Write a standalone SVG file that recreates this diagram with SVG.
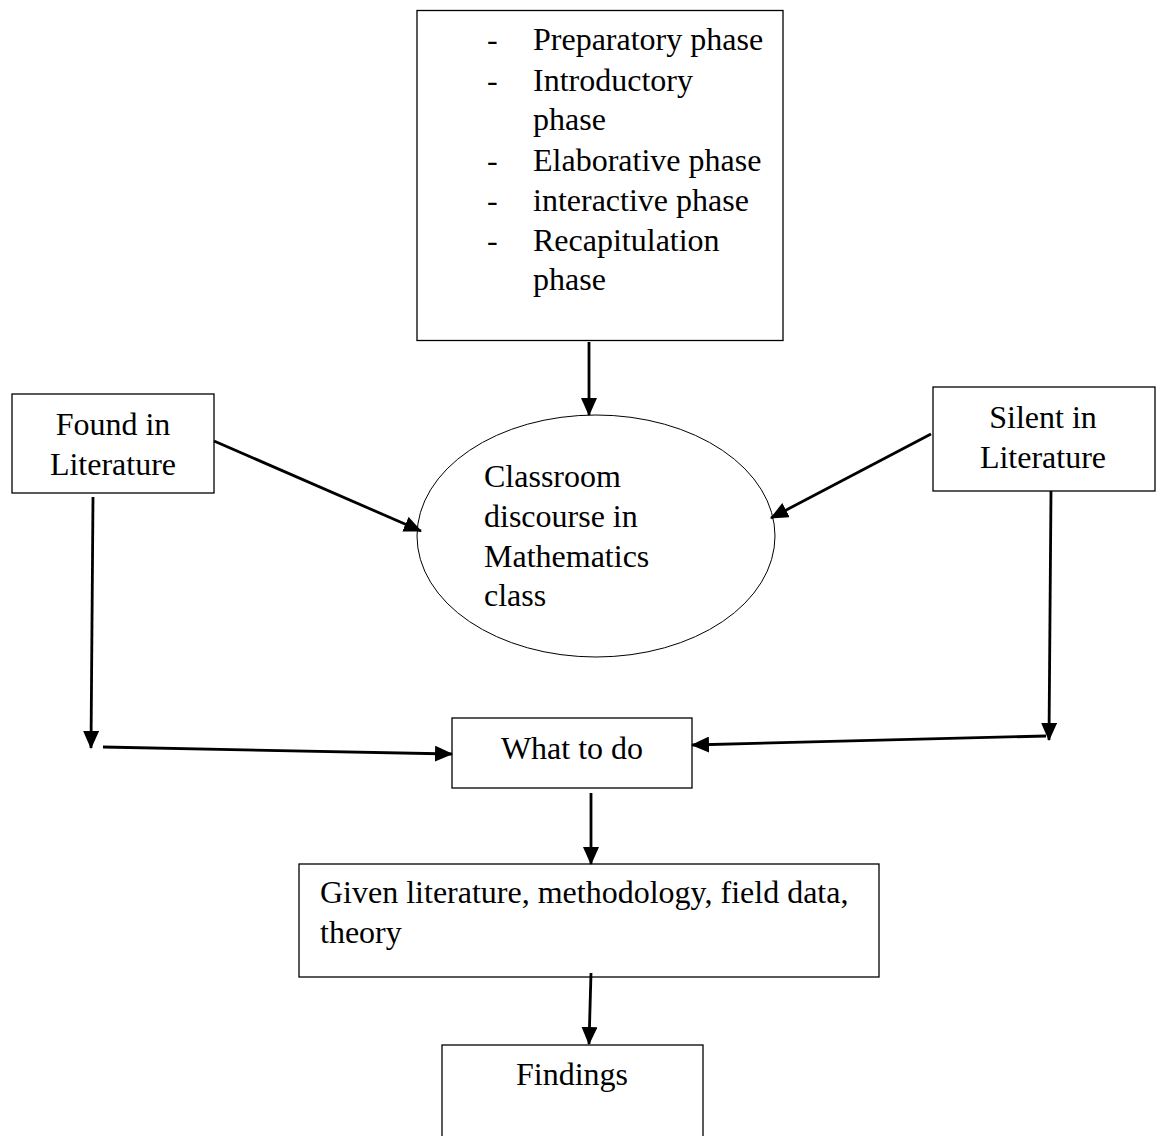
<svg xmlns="http://www.w3.org/2000/svg" width="1160" height="1136" viewBox="0 0 1160 1136">
<style>
.box{fill:#fff;stroke:#000;stroke-width:1.3}
.ell{fill:#fff;stroke:#000;stroke-width:1}
.t{font-family:"Liberation Serif","Times New Roman",serif;font-size:32px;fill:#000}
.c{text-anchor:middle}
.con{stroke:#000;stroke-width:2.8;fill:none;marker-end:url(#ah)}
</style>
<defs>
<marker id="ah" markerUnits="userSpaceOnUse" markerWidth="18" markerHeight="16" refX="17" refY="8" orient="auto">
<path d="M0,0 L18,8 L0,16 z" fill="#000"/>
</marker>
</defs>
<rect width="1160" height="1136" fill="#fff"/>
<g id="phases">
<rect class="box" x="417" y="10.5" width="366" height="330"/>
<text class="t" x="487" y="50">-</text><text class="t" x="533" y="50">Preparatory phase</text>
<text class="t" x="487" y="91">-</text><text class="t" x="533" y="91">Introductory</text>
<text class="t" x="533" y="130">phase</text>
<text class="t" x="487" y="171">-</text><text class="t" x="533" y="171">Elaborative phase</text>
<text class="t" x="487" y="211">-</text><text class="t" x="533" y="211">interactive phase</text>
<text class="t" x="487" y="251">-</text><text class="t" x="533" y="251">Recapitulation</text>
<text class="t" x="533" y="290">phase</text>
</g>
<g id="found">
<rect class="box" x="12" y="394" width="202" height="99"/>
<text class="t c" x="113" y="435">Found in</text>
<text class="t c" x="113" y="475">Literature</text>
</g>
<g id="silent">
<rect class="box" x="933" y="387" width="222" height="104"/>
<text class="t c" x="1043" y="428">Silent in</text>
<text class="t c" x="1043" y="468">Literature</text>
</g>
<g id="discourse">
<ellipse class="ell" cx="596" cy="536" rx="179" ry="121"/>
<text class="t" x="484" y="487">Classroom</text>
<text class="t" x="484" y="527">discourse in</text>
<text class="t" x="484" y="567">Mathematics</text>
<text class="t" x="484" y="606">class</text>
</g>
<g id="whattodo">
<rect class="box" x="452" y="718" width="240" height="70"/>
<text class="t c" x="572" y="759">What to do</text>
</g>
<g id="given">
<rect class="box" x="299" y="864" width="580" height="113"/>
<text class="t" x="320" y="903">Given literature, methodology, field data,</text>
<text class="t" x="320" y="943">theory</text>
</g>
<g id="findings">
<rect class="box" x="442" y="1045" width="261" height="120"/>
<text class="t c" x="572" y="1085">Findings</text>
</g>
<g id="connectors">
<line class="con" x1="589" y1="342" x2="589" y2="415"/>
<line class="con" x1="214" y1="441" x2="421" y2="531"/>
<line class="con" x1="931" y1="434" x2="771" y2="518"/>
<line class="con" x1="93" y1="497" x2="91" y2="748"/>
<line class="con" x1="103" y1="747" x2="452" y2="754"/>
<line class="con" x1="1051" y1="491" x2="1049" y2="740"/>
<line class="con" x1="1046" y1="736" x2="692" y2="745"/>
<line class="con" x1="591" y1="793" x2="591" y2="864"/>
<line class="con" x1="591" y1="973" x2="589" y2="1044"/>
</g>
</svg>
